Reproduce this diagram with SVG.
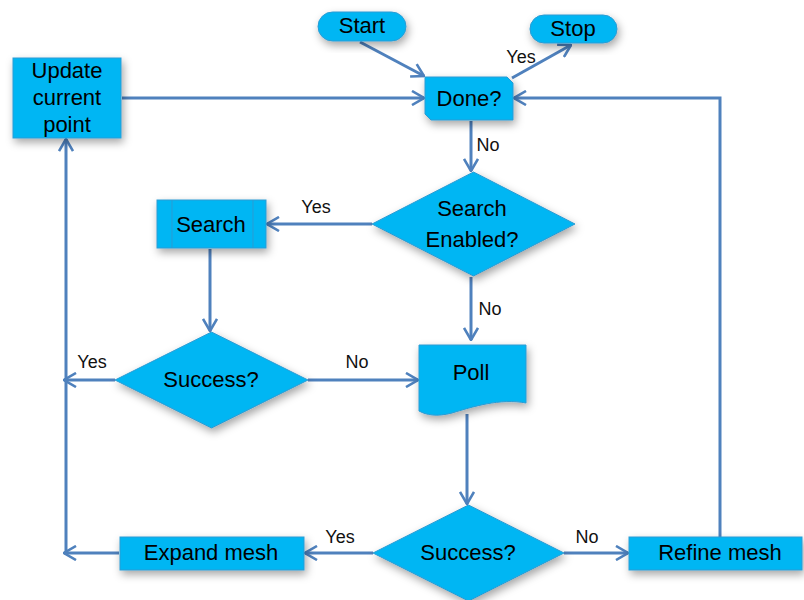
<svg xmlns="http://www.w3.org/2000/svg" width="804" height="600" viewBox="0 0 804 600">
  <defs>
    <filter id="shadow" x="-30%" y="-30%" width="160%" height="170%">
      <feDropShadow dx="2" dy="4" stdDeviation="4.5" flood-color="#000" flood-opacity="0.35"/>
    </filter>
    <marker id="arrow" viewBox="0 0 14 16" refX="13" refY="8" markerWidth="14" markerHeight="16" markerUnits="userSpaceOnUse" orient="auto">
      <path d="M1,1 L13,8 L1,15" fill="none" stroke="#4F81BD" stroke-width="2.6" stroke-linejoin="miter"/>
    </marker>
    <style>
      .shape { fill: #04B6F3; stroke: #2A9BD3; stroke-width: 1; filter: url(#shadow); }
      .inner { fill: none; stroke: #2A9BD3; stroke-width: 1; }
      .lbl { font-family: "Liberation Sans", Arial, sans-serif; font-size: 22px; fill: #000; text-anchor: middle; }
      .small { font-family: "Liberation Sans", Arial, sans-serif; font-size: 18px; fill: #111; text-anchor: middle; }
      .conn { fill: none; stroke: #4F81BD; stroke-width: 3; }
    </style>
  </defs>

  <rect width="804" height="600" fill="#fff"/>

  <!-- connectors -->
  <g id="connectors">
    <line class="conn" x1="360" y1="42" x2="424" y2="76" marker-end="url(#arrow)"/>
    <line class="conn" x1="512" y1="78" x2="571" y2="45" marker-end="url(#arrow)"/>
    <line class="conn" x1="122" y1="98" x2="424" y2="98" marker-end="url(#arrow)"/>
    <polyline class="conn" points="720,537 720,98 514,98" marker-end="url(#arrow)"/>
    <line class="conn" x1="471" y1="121" x2="471" y2="171" marker-end="url(#arrow)"/>
    <line class="conn" x1="372" y1="224" x2="267" y2="224" marker-end="url(#arrow)"/>
    <line class="conn" x1="471" y1="277" x2="471" y2="340" marker-end="url(#arrow)"/>
    <line class="conn" x1="210" y1="249" x2="210" y2="331" marker-end="url(#arrow)"/>
    <line class="conn" x1="115" y1="380" x2="64" y2="380" marker-end="url(#arrow)"/>
    <line class="conn" x1="308" y1="380" x2="418" y2="380" marker-end="url(#arrow)"/>
    <line class="conn" x1="467" y1="414" x2="467" y2="504" marker-end="url(#arrow)"/>
    <line class="conn" x1="373" y1="553" x2="305" y2="553" marker-end="url(#arrow)"/>
    <line class="conn" x1="564" y1="553" x2="628" y2="553" marker-end="url(#arrow)"/>
    <line class="conn" x1="119" y1="553" x2="64" y2="553" marker-end="url(#arrow)"/>
    <line class="conn" x1="66" y1="554" x2="66" y2="139" marker-end="url(#arrow)"/>
  </g>

  <!-- nodes -->
  <g id="start">
    <rect class="shape" x="318" y="12" width="88" height="29" rx="14.5"/>
    <text class="lbl" x="362" y="33">Start</text>
  </g>
  <g id="stop">
    <rect class="shape" x="530" y="15" width="87" height="28" rx="14"/>
    <text class="lbl" x="573" y="36">Stop</text>
  </g>
  <g id="done">
    <path class="shape" d="M425,77 H507 L513,83 V120 H431 L425,114 Z"/>
    <text class="lbl" x="469" y="106">Done?</text>
  </g>
  <g id="update">
    <rect class="shape" x="13" y="58" width="108" height="80"/>
    <text class="lbl" x="67" y="78">Update</text>
    <text class="lbl" x="67" y="105">current</text>
    <text class="lbl" x="67" y="132">point</text>
  </g>
  <g id="search-enabled">
    <path class="shape" d="M473.5,172 L575,224 L473.5,276 L372,224 Z"/>
    <text class="lbl" x="472" y="216">Search</text>
    <text class="lbl" x="472" y="247">Enabled?</text>
  </g>
  <g id="search">
    <rect class="shape" x="157" y="200" width="109" height="48"/>
    <line class="inner" x1="172" y1="200" x2="172" y2="248"/>
    <line class="inner" x1="253" y1="200" x2="253" y2="248"/>
    <text class="lbl" x="211" y="232">Search</text>
  </g>
  <g id="success-search">
    <path class="shape" d="M211.5,332 L308,380 L211.5,428 L115,380 Z"/>
    <text class="lbl" x="211" y="387">Success?</text>
  </g>
  <g id="poll">
    <path class="shape" d="M419,345 H526 V403 C500,398 472,407 452,413 C437,417 426,415 419,411 Z"/>
    <text class="lbl" x="471" y="380">Poll</text>
  </g>
  <g id="success-poll">
    <path class="shape" d="M468.5,505 L564,553 L468.5,601 L373,553 Z"/>
    <text class="lbl" x="468" y="560">Success?</text>
  </g>
  <g id="expand-mesh">
    <rect class="shape" x="120" y="537" width="184" height="33"/>
    <text class="lbl" x="211" y="560">Expand mesh</text>
  </g>
  <g id="refine-mesh">
    <rect class="shape" x="629" y="537" width="173" height="33"/>
    <text class="lbl" x="720" y="560">Refine mesh</text>
  </g>

  <!-- branch labels -->
  <g id="labels">
    <text class="small" x="521" y="63">Yes</text>
    <text class="small" x="488" y="151">No</text>
    <text class="small" x="316" y="213">Yes</text>
    <text class="small" x="490" y="315">No</text>
    <text class="small" x="92" y="368">Yes</text>
    <text class="small" x="357" y="368">No</text>
    <text class="small" x="340" y="543">Yes</text>
    <text class="small" x="587" y="543">No</text>
  </g>
</svg>
